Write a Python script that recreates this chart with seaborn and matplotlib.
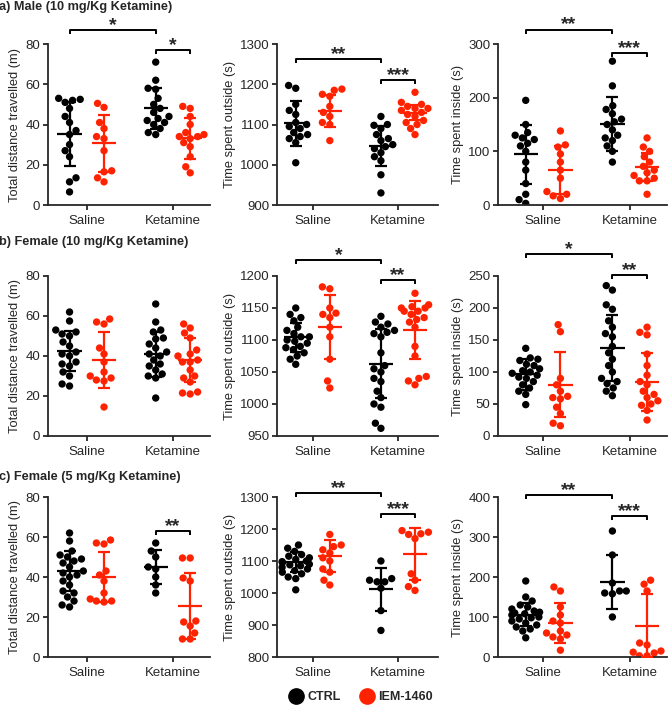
import warnings
import numpy as np
import pandas as pd
import matplotlib
matplotlib.use("Agg")
import matplotlib.pyplot as plt
from matplotlib.lines import Line2D
import seaborn as sns

warnings.filterwarnings("ignore")

groups = ["Saline", "Ketamine"]
treatments = ["CTRL", "IEM-1460"]
palette = ["#000000", "#ff2200"]

# a) Male (10 mg/Kg Ketamine)
a_dist_sal_ctrl = [53, 52.5, 52, 51, 48, 44, 41, 37, 35, 30, 27, 24, 13.5, 11.5, 6.5]
a_dist_sal_iem = [50.5, 48.5, 41, 38, 34, 33, 27, 17, 16.5, 13.5, 11.5]
a_dist_ket_ctrl = [71, 62, 58, 57.5, 53, 50, 48, 46, 44, 43, 42, 41, 40, 38, 36, 35]
a_dist_ket_iem = [49, 48, 44, 40, 36, 35, 34, 34, 33, 31, 29, 24, 19, 16]
a_dist_mean = [35.3, 30.6, 48.0, 33.1]
a_dist_sd = [15.7, 14.3, 10.0, 10.0]

a_out_sal_ctrl = [1197, 1190, 1150, 1135, 1125, 1105, 1100, 1095, 1090, 1080, 1075, 1070, 1065, 1055, 1005]
a_out_sal_iem = [1188, 1185, 1175, 1170, 1145, 1130, 1120, 1105, 1100, 1060]
a_out_ket_ctrl = [1120, 1100, 1098, 1090, 1075, 1065, 1060, 1050, 1045, 1040, 1030, 1020, 1010, 975, 930]
a_out_ket_iem = [1180, 1155, 1150, 1145, 1140, 1140, 1135, 1130, 1125, 1120, 1110, 1105, 1100, 1090, 1075]
a_out_mean = [1103, 1134, 1047, 1129]
a_out_sd = [55.5, 39, 50.5, 19]

a_in_sal_ctrl = [195, 150, 135, 130, 125, 122, 115, 110, 100, 80, 65, 40, 20, 10, 3]
a_in_sal_iem = [138, 112, 108, 95, 80, 65, 50, 25, 20, 17, 12]
a_in_ket_ctrl = [268, 222, 185, 178, 170, 160, 155, 150, 140, 130, 125, 120, 110, 100, 80]
a_in_ket_iem = [125, 108, 100, 90, 80, 72, 65, 60, 55, 50, 45, 45, 20]
a_in_mean = [95, 65, 151, 71]
a_in_sd = [55, 45, 50.5, 26]

# b) Female (10 mg/Kg Ketamine)
b_dist_sal_ctrl = [62, 57.5, 53, 52, 51, 50, 47, 45, 42, 41, 40, 37, 36, 35, 32, 30, 26, 25]
b_dist_sal_iem = [58.5, 57, 56, 44, 41, 37, 32, 30, 29, 28, 27.5, 14.5]
b_dist_ket_ctrl = [66, 57, 53, 52, 49, 48.5, 46, 44, 42, 41, 40, 38, 36, 35, 33, 31, 30, 29, 19]
b_dist_ket_iem = [56, 54, 51.5, 49, 43, 41, 40, 38, 37, 37, 33, 30, 29, 27, 22, 21.5, 21]
b_dist_mean = [42.6, 37.9, 40.9, 37.9]
b_dist_sd = [10, 14, 11.2, 11]

b_out_sal_ctrl = [1150, 1140, 1135, 1130, 1120, 1115, 1110, 1105, 1105, 1100, 1098, 1095, 1090, 1088,
                  1085, 1080, 1075, 1070, 1062]
b_out_sal_iem = [1183, 1180, 1150, 1142, 1140, 1135, 1120, 1105, 1070, 1036, 1025]
b_out_ket_ctrl = [1137, 1128, 1125, 1120, 1115, 1112, 1110, 1105, 1080, 1060, 1055, 1050, 1040, 1035,
                  1020, 1010, 1000, 995, 970, 962]
b_out_ket_iem = [1173, 1155, 1152, 1150, 1150, 1145, 1145, 1140, 1135, 1132, 1128, 1120, 1090, 1075,
                 1043, 1040, 1036, 1030]
b_out_mean = [1104, 1120, 1063, 1116]
b_out_sd = [23, 50, 54, 45]

b_in_sal_ctrl = [137, 122, 120, 118, 112, 110, 105, 102, 100, 98, 95, 92, 90, 85, 80, 75, 70, 65, 49]
b_in_sal_iem = [174, 163, 90, 80, 70, 62, 60, 58, 45, 35, 20, 16]
b_in_ket_ctrl = [235, 228, 205, 198, 180, 170, 160, 155, 140, 130, 120, 110, 100, 90, 85, 82, 75, 70, 63]
b_in_ket_iem = [170, 162, 158, 128, 110, 95, 85, 80, 70, 65, 60, 55, 50, 48, 40, 25]
b_in_mean = [96.5, 80, 137.5, 84]
b_in_sd = [24, 51, 52, 45]

# c) Female (5 mg/Kg Ketamine)
c_dist_sal_ctrl = [62, 58, 53, 51, 50, 49, 48, 47, 45, 43, 42, 41, 40, 38, 36, 33, 32, 30, 28, 26, 25]
c_dist_sal_iem = [58.5, 57, 56.5, 43, 41, 38, 32, 29, 28, 28, 27.5]
c_dist_ket_ctrl = [57, 53, 50, 45, 44, 40, 36, 32]
c_dist_ket_iem = [49.5, 49.5, 39.5, 38, 18, 17.5, 15.5, 12, 9, 9]
c_dist_mean = [42.8, 40, 45, 25.5]
c_dist_sd = [10, 12.3, 8.7, 16.3]

c_out_sal_ctrl = [1150, 1140, 1130, 1120, 1115, 1110, 1105, 1100, 1098, 1095, 1090, 1088, 1085, 1080,
                  1075, 1070, 1065, 1060, 1050, 1045, 1010]
c_out_sal_iem = [1183, 1150, 1145, 1135, 1125, 1110, 1100, 1075, 1065, 1040, 1025]
c_out_ket_ctrl = [1100, 1045, 1040, 1035, 1035, 1015, 945, 883]
c_out_ket_iem = [1195, 1190, 1185, 1183, 1170, 1060, 1040, 1020, 1008]
c_out_mean = [1097, 1116, 1012, 1122]
c_out_sd = [31, 49, 67, 80]

c_in_sal_ctrl = [190, 150, 140, 130, 125, 120, 115, 112, 110, 108, 105, 100, 98, 95, 90, 85, 80, 75,
                 70, 65, 48]
c_in_sal_iem = [175, 165, 125, 105, 90, 85, 65, 60, 55, 50, 45, 17]
c_in_ket_ctrl = [315, 255, 185, 165, 165, 160, 158, 100]
c_in_ket_iem = [192, 182, 165, 35, 30, 15, 12, 10, 3, 3]
c_in_mean = [106, 84, 188, 78]
c_in_sd = [29, 50, 67, 79]

row_titles = ["a) Male (10 mg/Kg Ketamine)", "b) Female (10 mg/Kg Ketamine)", "c) Female (5 mg/Kg Ketamine)"]
ylabels = ["Total distance travelled (m)", "Time spent outside (s)", "Time spent inside (s)"]

OFFSET = 0.2


def make_df(sal_ctrl, sal_iem, ket_ctrl, ket_iem):
    rows = []
    for gi, t, vals in [(0, "CTRL", sal_ctrl), (0, "IEM-1460", sal_iem),
                        (1, "CTRL", ket_ctrl), (1, "IEM-1460", ket_iem)]:
        xpos = gi + (-OFFSET if t == "CTRL" else OFFSET)
        for v in vals:
            rows.append((xpos, t, v))
    return pd.DataFrame(rows, columns=["xpos", "treatment", "value"])


def bracket(ax, x1, x2, y, stars, drop):
    ax.plot([x1, x1, x2, x2], [y - drop, y, y, y - drop], color="black", lw=1.4,
            clip_on=False, solid_capstyle="butt")
    ax.text((x1 + x2) / 2, y, stars, ha="center", va="baseline", fontsize=14,
            fontweight="bold", clip_on=False)


def panel(ax, df, means, sds, ylabel, yticks, xlim, brackets):
    sns.swarmplot(data=df, x="xpos", y="value", hue="treatment", hue_order=treatments,
                  palette=palette, native_scale=True, orient="x", size=5.3,
                  linewidth=0, ax=ax, legend=False, zorder=2)
    k = 0
    for i in range(len(groups)):
        for j in range(len(treatments)):
            x = i + (-OFFSET if j == 0 else OFFSET)
            m, s = means[k], sds[k]
            ax.hlines(m, x - 0.14, x + 0.14, color=palette[j], lw=1.6, zorder=4)
            ax.errorbar(x, m, yerr=s, color=palette[j], capsize=4.6, elinewidth=1.6,
                        capthick=1.6, fmt="none", zorder=4)
            k += 1
    ax.set_xticks([0, 1])
    ax.set_xticklabels(groups)
    ax.set_xlim(*xlim)
    ax.set_ylim(yticks[0], yticks[-1])
    ax.set_yticks(yticks)
    ax.set_xlabel("")
    ax.set_ylabel(ylabel, fontsize=9.3, labelpad=3)
    ax.tick_params(axis="both", labelsize=9.5, width=1.3, length=3.5, pad=2)
    ax.tick_params(axis="x", pad=4)
    for side in ["top", "right"]:
        ax.spines[side].set_visible(False)
    for side in ["left", "bottom"]:
        ax.spines[side].set_linewidth(1.3)
    drop = 0.025 * (yticks[-1] - yticks[0])
    for x1, x2, y, stars in brackets:
        bracket(ax, x1, x2, y, stars, drop)


sns.set_style("ticks")
plt.rcParams["font.family"] = ["Liberation Sans", "DejaVu Sans"]

fig = plt.figure(figsize=(6.68, 7.06), dpi=100)

W, H = 668.0, 706.0
col_px = [(48, 210), (277, 438), (498, 667)]
col_xlim = [(-0.45, 1.43), (-0.42, 1.47), (-0.52, 1.43)]
row_px = [(44, 205), (276, 436), (497, 657)]
title_y = [7, 242, 477]

data = [
    [make_df(a_dist_sal_ctrl, a_dist_sal_iem, a_dist_ket_ctrl, a_dist_ket_iem),
     make_df(a_out_sal_ctrl, a_out_sal_iem, a_out_ket_ctrl, a_out_ket_iem),
     make_df(a_in_sal_ctrl, a_in_sal_iem, a_in_ket_ctrl, a_in_ket_iem)],
    [make_df(b_dist_sal_ctrl, b_dist_sal_iem, b_dist_ket_ctrl, b_dist_ket_iem),
     make_df(b_out_sal_ctrl, b_out_sal_iem, b_out_ket_ctrl, b_out_ket_iem),
     make_df(b_in_sal_ctrl, b_in_sal_iem, b_in_ket_ctrl, b_in_ket_iem)],
    [make_df(c_dist_sal_ctrl, c_dist_sal_iem, c_dist_ket_ctrl, c_dist_ket_iem),
     make_df(c_out_sal_ctrl, c_out_sal_iem, c_out_ket_ctrl, c_out_ket_iem),
     make_df(c_in_sal_ctrl, c_in_sal_iem, c_in_ket_ctrl, c_in_ket_iem)],
]
means = [[a_dist_mean, a_out_mean, a_in_mean],
         [b_dist_mean, b_out_mean, b_in_mean],
         [c_dist_mean, c_out_mean, c_in_mean]]
sds = [[a_dist_sd, a_out_sd, a_in_sd],
       [b_dist_sd, b_out_sd, b_in_sd],
       [c_dist_sd, c_out_sd, c_in_sd]]

yticks = [
    [[0, 20, 40, 60, 80], [900, 1000, 1100, 1200, 1300], [0, 100, 200, 300]],
    [[0, 20, 40, 60, 80], [950, 1000, 1050, 1100, 1150, 1200], [0, 50, 100, 150, 200, 250]],
    [[0, 20, 40, 60, 80], [800, 900, 1000, 1100, 1200, 1300], [0, 100, 200, 300, 400]],
]

brackets = [
    [[(-0.2, 0.8, 87, "*"), (0.8, 1.2, 77, "*")],
     [(-0.2, 0.8, 1262, "**"), (0.8, 1.2, 1210, "***")],
     [(-0.2, 0.8, 327, "**"), (0.8, 1.2, 284, "***")]],
    [[],
     [(-0.2, 0.8, 1225, "*"), (0.8, 1.2, 1194, "**")],
     [(-0.2, 0.8, 284, "*"), (0.8, 1.2, 251, "**")]],
    [[(0.8, 1.2, 63, "**")],
     [(-0.2, 0.8, 1312, "**"), (0.8, 1.2, 1247, "***")],
     [(-0.2, 0.8, 405, "**"), (0.8, 1.2, 352, "***")]],
]

for r in range(3):
    top, bot = row_px[r]
    for c in range(3):
        left, right = col_px[c]
        ax = fig.add_axes([left / W, 1 - bot / H, (right - left) / W, (bot - top) / H])
        panel(ax, data[r][c], means[r][c], sds[r][c], ylabels[c], yticks[r][c],
              col_xlim[c], brackets[r][c])
    fig.text(-0.002, 1 - title_y[r] / H, row_titles[r], fontsize=9.2, fontweight="bold",
             ha="left", va="center")

handles = [Line2D([], [], marker="o", ls="none", color=palette[k], markersize=11) for k in range(2)]
fig.legend(handles, treatments, loc="center", bbox_to_anchor=(361 / W, 1 - 697 / H), ncol=2,
           frameon=False, prop={"weight": "bold", "size": 9}, handletextpad=0.3,
           columnspacing=1.5, handlelength=1.2)

fig.savefig("out.png", dpi=100)
